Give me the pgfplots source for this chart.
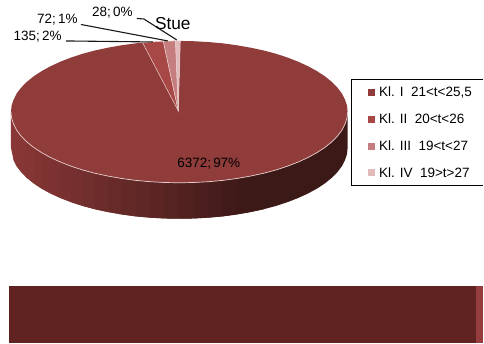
\documentclass[border=0pt]{standalone}
\usepackage{fontspec}
\setmainfont{Liberation Sans}
\usepackage{pgfplots}
\pgfplotsset{compat=1.18}
\definecolor{klI}{RGB}{143,60,59}
\definecolor{klII}{RGB}{168,72,70}
\definecolor{klIII}{RGB}{198,125,125}
\definecolor{klIV}{RGB}{226,186,186}
\definecolor{rim}{RGB}{232,205,205}
\definecolor{strip}{RGB}{97,35,34}
\definecolor{stripb}{RGB}{149,61,61}
\definecolor{rimL}{RGB}{138,56,55}
\definecolor{rimD}{RGB}{59,25,23}
\tikzset{lab/.style={inner sep=0pt, font=\fontsize{13.5}{15}\selectfont, text=black}}
\pgfplotsset{q/.style={fill=rimL!#1!rimD, draw=none}}
\begin{document}
\begin{tikzpicture}
\begin{axis}[
  scale only axis, width=484pt, height=344pt,
  xmin=0, xmax=484, ymin=0, ymax=344, y dir=reverse,
  axis lines=none, clip=false
]
\path (axis cs:0,0) rectangle (axis cs:484,344);
% 3-D rim of the pie, shaded in steps from left to right; each step runs under the next
\addplot[q=99] coordinates {(11,112) (13.6,124.3) (16.7,130.4) (16.7,166.4) (13.6,160.3) (11,148)} -- cycle;
\addplot[q=98] coordinates {(13.6,124.3) (16.7,130.4) (21.2,136.3) (21.2,172.3) (16.7,166.4) (13.6,160.3)} -- cycle;
\addplot[q=97] coordinates {(16.7,130.4) (21.2,136.3) (26.8,142) (26.8,178) (21.2,172.3) (16.7,166.4)} -- cycle;
\addplot[q=95] coordinates {(21.2,136.3) (26.8,142) (33.6,147.5) (33.6,183.5) (26.8,178) (21.2,172.3)} -- cycle;
\addplot[q=92] coordinates {(26.8,142) (33.6,147.5) (41.5,152.7) (41.5,188.7) (33.6,183.5) (26.8,178)} -- cycle;
\addplot[q=89] coordinates {(33.6,147.5) (41.5,152.7) (50.4,157.6) (50.4,193.6) (41.5,188.7) (33.6,183.5)} -- cycle;
\addplot[q=85] coordinates {(41.5,152.7) (50.4,157.6) (60.4,162.2) (60.4,198.2) (50.4,193.6) (41.5,188.7)} -- cycle;
\addplot[q=81] coordinates {(50.4,157.6) (60.4,162.2) (71.2,166.4) (71.2,202.4) (60.4,198.2) (50.4,193.6)} -- cycle;
\addplot[q=77] coordinates {(60.4,162.2) (71.2,166.4) (82.8,170.2) (82.8,206.2) (71.2,202.4) (60.4,198.2)} -- cycle;
\addplot[q=72] coordinates {(71.2,166.4) (82.8,170.2) (95.2,173.5) (95.2,209.5) (82.8,206.2) (71.2,202.4)} -- cycle;
\addplot[q=67] coordinates {(82.8,170.2) (95.2,173.5) (108.3,176.3) (108.3,212.3) (95.2,209.5) (82.8,206.2)} -- cycle;
\addplot[q=62] coordinates {(95.2,173.5) (108.3,176.3) (121.9,178.7) (121.9,214.7) (108.3,212.3) (95.2,209.5)} -- cycle;
\addplot[q=56] coordinates {(108.3,176.3) (121.9,178.7) (135.9,180.6) (135.9,216.6) (121.9,214.7) (108.3,212.3)} -- cycle;
\addplot[q=51] coordinates {(121.9,178.7) (135.9,180.6) (150.2,181.9) (150.2,217.9) (135.9,216.6) (121.9,214.7)} -- cycle;
\addplot[q=45] coordinates {(135.9,180.6) (150.2,181.9) (164.8,182.7) (164.8,218.7) (150.2,217.9) (135.9,216.6)} -- cycle;
\addplot[q=39] coordinates {(150.2,181.9) (164.8,182.7) (179.5,183) (179.5,219) (164.8,218.7) (150.2,217.9)} -- cycle;
\addplot[q=33] coordinates {(164.8,182.7) (179.5,183) (194.2,182.7) (194.2,218.7) (179.5,219) (164.8,218.7)} -- cycle;
\addplot[q=26] coordinates {(179.5,183) (194.2,182.7) (208.8,181.9) (208.8,217.9) (194.2,218.7) (179.5,219)} -- cycle;
\addplot[q=20] coordinates {(194.2,182.7) (208.8,181.9) (223.1,180.6) (223.1,216.6) (208.8,217.9) (194.2,218.7)} -- cycle;
\addplot[q=14] coordinates {(208.8,181.9) (223.1,180.6) (237.1,178.7) (237.1,214.7) (223.1,216.6) (208.8,217.9)} -- cycle;
\addplot[q=8] coordinates {(223.1,180.6) (237.1,178.7) (250.7,176.3) (250.7,212.3) (237.1,214.7) (223.1,216.6)} -- cycle;
\addplot[q=3] coordinates {(237.1,178.7) (250.7,176.3) (263.8,173.5) (263.8,209.5) (250.7,212.3) (237.1,214.7)} -- cycle;
\addplot[q=0] coordinates {(250.7,176.3) (263.8,173.5) (276.2,170.2) (287.8,166.4) (298.6,162.2) (308.6,157.6) (317.5,152.7) (325.4,147.5) (332.2,142) (337.8,136.3) (342.3,130.4) (345.4,124.3) (347.4,118.2) (348,112) (348,148) (347.4,154.2) (345.4,160.3) (342.3,166.4) (337.8,172.3) (332.2,178) (325.4,183.5) (317.5,188.7) (308.6,193.6) (298.6,198.2) (287.8,202.4) (276.2,206.2) (263.8,209.5) (250.7,212.3)} -- cycle;
% Kl. I
\addplot[fill=klI, draw=none] coordinates {
(178.5,111) (180.5,41) (194.2,41.3) (208.8,42.1) (223.1,43.4) (237.1,45.3) (250.7,47.7) (263.8,50.5) (276.2,53.8) (287.8,57.6) (298.6,61.8) (308.6,66.4) (317.5,71.3) (325.4,76.5) (332.2,82) (337.8,87.7) (342.3,93.6) (345.4,99.7) (347.4,105.8) (348,112)
(347.4,118.2) (345.4,124.3) (342.3,130.4) (337.8,136.3) (332.2,142) (325.4,147.5) (317.5,152.7) (308.6,157.6) (298.6,162.2) (287.8,166.4) (276.2,170.2) (263.8,173.5) (250.7,176.3) (237.1,178.7) (223.1,180.6) (208.8,181.9) (194.2,182.7) (179.5,183) (164.8,182.7) (150.2,181.9) (135.9,180.6) (121.9,178.7) (108.3,176.3) (95.2,173.5) (82.8,170.2) (71.2,166.4) (60.4,162.2) (50.4,157.6) (41.5,152.7) (33.6,147.5) (26.8,142) (21.2,136.3) (16.7,130.4) (13.6,124.3) (11.6,118.2) (11,112)
(11.6,105.8) (13.6,99.7) (16.7,93.6) (21.2,87.7) (26.8,82) (33.6,76.5) (41.5,71.3) (50.4,66.4) (60.4,61.8) (71.2,57.6) (82.8,53.8) (95.2,50.5) (108.3,47.7) (121.9,45.3) (135.9,43.4) (142.7,42.7)
} -- cycle;
% pale front edge of the top face
\addplot[rim, line width=0.7pt] coordinates {(348,112) (347.4,118.2) (345.4,124.3) (342.3,130.4) (337.8,136.3) (332.2,142) (325.4,147.5) (317.5,152.7) (308.6,157.6) (298.6,162.2) (287.8,166.4) (276.2,170.2) (263.8,173.5) (250.7,176.3) (237.1,178.7) (223.1,180.6) (208.8,181.9) (194.2,182.7) (179.5,183) (164.8,182.7) (150.2,181.9) (135.9,180.6) (121.9,178.7) (108.3,176.3) (95.2,173.5) (82.8,170.2) (71.2,166.4) (60.4,162.2) (50.4,157.6) (41.5,152.7) (33.6,147.5) (26.8,142) (21.2,136.3) (16.7,130.4) (13.6,124.3) (11.6,118.2) (11,112)};
% Kl. II, III, IV
\addplot[fill=klII, draw=rim, line width=0.5pt] coordinates {(178.5,111) (142.7,42.7) (150.2,42.1) (163.5,41.3)} -- cycle;
\addplot[fill=klIII, draw=rim, line width=0.5pt] coordinates {(178.5,111) (163.5,41.3) (170,41.1) (175.7,41)} -- cycle;
\addplot[fill=klIV, draw=rim, line width=0.5pt] coordinates {(178.5,111) (175.7,41) (180.5,41)} -- cycle;
% leader lines
\addplot[black!90, line width=1.1pt] coordinates {(66,41) (153,42)};
\addplot[black!90, line width=1.1pt] coordinates {(81,24.5) (168,41)};
\addplot[black!90, line width=1.1pt] coordinates {(137,18.5) (144,19) (177,40)};
% bottom strip
\addplot[fill=strip, draw=none] coordinates {(9,286) (477,286) (477,343.5) (9,343.5)} -- cycle;
\addplot[fill=stripb, draw=none] coordinates {(477,286) (484,286) (484,343.5) (477,343.5)} -- cycle;
% legend frame
\addplot[black, line width=1.1pt] coordinates {(484,79.5) (352,79.5) (352,186) (484,186)};
\addplot[only marks, mark=square*, mark size=3pt, mark options={draw=klI, fill=klI}] coordinates {(372,92.7)};
\addplot[only marks, mark=square*, mark size=3pt, mark options={draw=klII, fill=klII}] coordinates {(372,119.3)};
\addplot[only marks, mark=square*, mark size=3pt, mark options={draw=klIII, fill=klIII}] coordinates {(372,146)};
\addplot[only marks, mark=square*, mark size=3pt, mark options={draw=klIV, fill=klIV}] coordinates {(372,172.7)};
% texts
\node[lab, anchor=west] at (axis cs:379.3,92.7) {Kl. I\ \ 21<t<25,5};
\node[lab, anchor=west] at (axis cs:379.3,119.3) {Kl. II\ \ 20<t<26};
\node[lab, anchor=west] at (axis cs:379.3,146) {Kl. III\ \ 19<t<27};
\node[lab, anchor=west] at (axis cs:379.3,172.7) {Kl. IV\ \ 19>t>27};
\node[lab, anchor=center] at (axis cs:209,164) {6372;\,97\%};
\node[lab, anchor=east] at (axis cs:62,36.7) {135;\,2\%};
\node[lab, anchor=east] at (axis cs:78,20) {72;\,1\%};
\node[lab, anchor=east] at (axis cs:133,12.7) {28;\,0\%};
\node[lab, anchor=west, font=\fontsize{17.3}{19}\selectfont] at (axis cs:155,24) {Stue};
\end{axis}
\end{tikzpicture}
\end{document}
